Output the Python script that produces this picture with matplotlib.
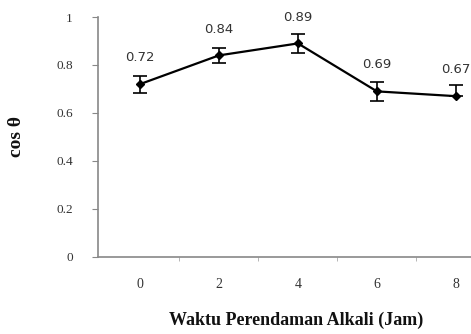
import matplotlib.pyplot as plt
import numpy as np

# waktu perendaman (jam) dan nilai cos theta
waktu = ['0', '2', '4', '6', '8']
cos_theta = [0.72, 0.84, 0.89, 0.69, 0.67]
err_bawah = [0.035, 0.03, 0.04, 0.04, 0.0]
err_atas = [0.035, 0.03, 0.04, 0.04, 0.045]
label_nilai = ['0.72', '0.84', '0.89', '0.69', '0.67']

x = np.arange(len(waktu))

fig = plt.figure(figsize=(4.71, 3.34), dpi=100)
ax = fig.add_axes([0.208, 0.231, 0.792, 0.718])

ax.errorbar(x, cos_theta, yerr=[err_bawah, err_atas], color='black',
            marker='D', markersize=4.5, linewidth=1.6, elinewidth=1.2,
            capsize=5, capthick=1.2)

for xi, yi, t in zip(x, cos_theta, label_nilai):
    ax.annotate(t, (xi, yi), xytext=(0, 19), textcoords='offset points',
                ha='center', va='center', fontsize=9.5, color='#333333',
                family='DejaVu Sans')

ax.set_xlim(-0.53, 4.19)
ax.set_ylim(0, 1)
ax.set_yticks([0, 0.2, 0.4, 0.6, 0.8, 1.0])
ax.set_yticklabels(['0', '0.2', '0.4', '0.6', '0.8', '1'])
ax.set_xticks(x)
ax.set_xticklabels(waktu)
ax.set_xticks([0.5, 1.5, 2.5, 3.5], minor=True)

for sp in ['top', 'right']:
    ax.spines[sp].set_visible(False)
for sp in ['left', 'bottom']:
    ax.spines[sp].set_color('#888888')
    ax.spines[sp].set_linewidth(1.2)

ax.tick_params(axis='y', direction='out', length=4, color='#888888',
               labelsize=9.5, pad=14, labelcolor='#333333')
ax.tick_params(axis='x', which='major', length=0, labelsize=10, pad=15,
               labelcolor='#333333')
ax.tick_params(axis='x', which='minor', direction='out', length=3,
               color='#aaaaaa')
for lab in ax.get_xticklabels() + ax.get_yticklabels():
    lab.set_family('Liberation Serif')

fig.text(0.628, 0.042, 'Waktu Perendaman Alkali (Jam)', fontsize=13,
         fontweight='bold', family='Liberation Serif',
         ha='center', va='center', color='#111111')
fig.text(0.036, 0.59, 'cos θ', fontsize=14, fontweight='bold',
         family='Liberation Serif', rotation=90,
         ha='center', va='center', color='#111111')

fig.savefig('out.png', dpi=100)
